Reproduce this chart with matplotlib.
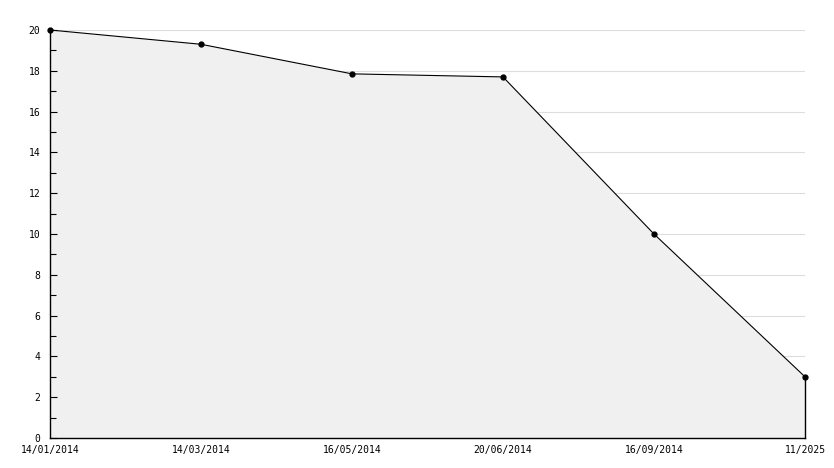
import matplotlib
matplotlib.use('Agg')
import matplotlib.pyplot as plt
import numpy as np

# data
dates = ['14/01/2014', '14/03/2014', '16/05/2014', '20/06/2014', '16/09/2014', '11/2025']
values = [20, 19.3, 17.85, 17.7, 10, 3]

plt.rcParams['font.family'] = 'DejaVu Sans Mono'
plt.rcParams['font.size'] = 7

fig = plt.figure(figsize=(8.34, 4.68), dpi=100)
ax = fig.add_axes([50/834, 1-438/468, 755/834, 408/468])

x = np.arange(len(dates))
yt = np.arange(0, 21, 2)

# grid under the fill, ticks above it
for v in yt[1:]:
    ax.axhline(v, color='#dddddd', linewidth=0.8, zorder=0.1)
ax.fill_between(x, values, 0, color='#f0f0f0', linewidth=0, zorder=0.5)
ax.plot(x, values, color='black', linewidth=0.8, marker='o', markersize=3.5,
        markerfacecolor='black', markeredgecolor='black', zorder=3, clip_on=False)
ax.plot([x[-1], x[-1]], [0, values[-1]], color='black', linewidth=1,
        zorder=3, clip_on=False)

ax.set_xlim(0, len(dates) - 1)
ax.set_ylim(0, 20)
ax.set_yticks(yt)
ax.set_yticks(np.arange(1, 20, 2), minor=True)
ax.set_xticks(x)
ax.set_xticklabels(dates)
ax.tick_params(axis='y', which='major', direction='in', length=5, width=0.8, pad=7)
ax.tick_params(axis='y', which='minor', direction='in', length=4, width=0.8)
ax.tick_params(axis='x', length=0, pad=5)

for s in ['top', 'right']:
    ax.spines[s].set_visible(False)
for s in ['left', 'bottom']:
    ax.spines[s].set_linewidth(1)

fig.savefig('out.png', dpi=100)
